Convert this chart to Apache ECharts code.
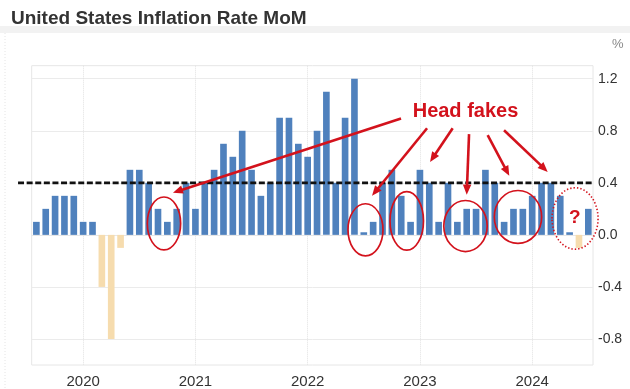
<!DOCTYPE html>
<html><head><meta charset="utf-8">
<script src="https://cdn.jsdelivr.net/npm/echarts@6/dist/echarts.min.js"></script>
<style>html,body{margin:0;padding:0;background:#fff}#c{width:630px;height:389px}</style>
</head><body><div id="c"></div>
<script>
// ---- data ----
const months = [
  '2019-08','2019-09','2019-10','2019-11','2019-12',
  '2020-01','2020-02','2020-03','2020-04','2020-05','2020-06','2020-07','2020-08','2020-09','2020-10','2020-11','2020-12',
  '2021-01','2021-02','2021-03','2021-04','2021-05','2021-06','2021-07','2021-08','2021-09','2021-10','2021-11','2021-12',
  '2022-01','2022-02','2022-03','2022-04','2022-05','2022-06','2022-07','2022-08','2022-09','2022-10','2022-11','2022-12',
  '2023-01','2023-02','2023-03','2023-04','2023-05','2023-06','2023-07','2023-08','2023-09','2023-10','2023-11','2023-12',
  '2024-01','2024-02','2024-03','2024-04','2024-05','2024-06','2024-07'
];
const inflationMoM = [
  0.1, 0.2, 0.3, 0.3, 0.3,
  0.1, 0.1, -0.4, -0.8, -0.1, 0.5, 0.5, 0.4, 0.2, 0.1, 0.2, 0.4,
  0.2, 0.4, 0.5, 0.7, 0.6, 0.8, 0.5, 0.3, 0.4, 0.9, 0.9, 0.7,
  0.6, 0.8, 1.1, 0.4, 0.9, 1.2, 0.02, 0.1, 0.4, 0.5, 0.3, 0.1,
  0.5, 0.4, 0.1, 0.4, 0.1, 0.2, 0.2, 0.5, 0.4, 0.1, 0.2, 0.2,
  0.3, 0.4, 0.4, 0.3, 0.02, -0.1, 0.2
];
const yTickLabels = ['-0.8', '-0.4', '0.0', '0.4', '0.8', '1.2'];
const thresholdValue = 0.4;
// annotations in data space: [monthIndex, value, ...]
const thresholdSpan = [[-1.96, 0.4, 59.5, 0.4]];
const ellipses = [ // cx, cy, rx (months), ry (value), dotted
  [13.64, 0.088, 1.78, 0.203, 0],
  [35.18, 0.039, 1.87, 0.200, 0],
  [39.59, 0.107, 1.79, 0.225, 0],
  [45.87, 0.068, 2.32, 0.196, 0],
  [51.48, 0.138, 2.53, 0.203, 0],
  [57.58, 0.126, 2.46, 0.236, 1]
];
const arrows = [ // x0, y0, x1(head), y1(head)
  [38.98, 0.895, 14.60, 0.324],
  [41.76, 0.819, 35.88, 0.301],
  [44.50, 0.819, 42.08, 0.560],
  [46.25, 0.774, 46.00, 0.309],
  [48.24, 0.766, 50.55, 0.454],
  [49.99, 0.804, 54.66, 0.484]
];
const labels = [ // x, y, text, size
  [45.87, 0.952, 'Head fakes', 20],
  [57.55, 0.135, '?', 19]
];

const RED = '#d3121c';
const FONT = 'Liberation Sans, Arial, sans-serif';
const chart = echarts.init(document.getElementById('c'), null, {renderer: 'canvas'});

chart.setOption({
  backgroundColor: '#fff',
  animation: false,
  title: {
    text: 'United States Inflation Rate MoM',
    left: 6, top: 4,
    textStyle: {fontFamily: FONT, fontSize: 19, fontWeight: 'bold', color: '#333'}
  },
  graphic: [
    {type: 'rect', left: 0, top: 26, shape: {width: 630, height: 7}, style: {fill: '#f2f2f2'}, silent: true},
    {type: 'line', shape: {x1: 5, y1: 33, x2: 5, y2: 389}, style: {stroke: '#e4e4e4', lineDash: [1, 2], lineWidth: 1}, silent: true},
    {type: 'text', left: 612, top: 38, style: {text: '%', fill: '#888', font: '13px ' + FONT}, silent: true}
  ],
  grid: {left: 31.7, right: 37, top: 65.7, bottom: 21.3, show: true, borderColor: '#e6e6e6', borderWidth: 1},
  xAxis: [{
    type: 'category',
    data: months,
    boundaryGap: true,
    axisLine: {show: true, lineStyle: {color: '#e6e6e6'}},
    axisTick: {show: false},
    axisLabel: {
      interval: (i, v) => v.endsWith('-01'),
      formatter: v => v.slice(0, 4),
      color: '#333', fontSize: 15, fontFamily: FONT, margin: 9
    },
    splitLine: {
      show: true, alignWithLabel: true,
      interval: (i, v) => v.endsWith('-01'),
      lineStyle: {color: '#e2e2e2', type: 'dotted', width: 1}
    }
  }, {
    type: 'value', min: -0.5, max: 59.5, show: false
  }],
  yAxis: {
    type: 'value',
    position: 'right',
    min: -1.0, max: 1.3, interval: 0.2,
    axisLine: {show: false},
    axisTick: {show: false},
    axisLabel: {
      color: '#333', fontSize: 14, fontFamily: FONT, margin: 5,
      formatter: v => {
        const s = v.toFixed(1);
        return yTickLabels.indexOf(s === '-0.0' ? '0.0' : s) >= 0 ? (s === '-0.0' ? '0.0' : s) : '';
      }
    },
    splitLine: {show: true, lineStyle: {color: ['transparent', '#ebebeb'], width: 1}}
  },
  series: [{
    type: 'bar',
    data: inflationMoM,
    barWidth: '71%',
    z: 2,
    itemStyle: {color: p => p.value < 0 ? '#f6dcae' : '#4f81bd'}
  }, {
    type: 'custom', xAxisIndex: 1, z: 5, clip: false,
    data: thresholdSpan,
    renderItem: (params, api) => {
      const a = api.coord([api.value(0), api.value(1)]);
      const b = api.coord([api.value(2), api.value(3)]);
      return {type: 'line', shape: {x1: a[0], y1: a[1], x2: b[0], y2: b[1]},
        style: {stroke: '#111', lineWidth: 2.8, lineDash: [6, 2.6]}};
    }
  }, {
    type: 'custom', xAxisIndex: 1, z: 6, clip: false,
    data: ellipses,
    renderItem: (params, api) => {
      const c = api.coord([api.value(0), api.value(1)]);
      const s = api.size([api.value(2), api.value(3)]);
      const dotted = api.value(4) === 1;
      return {type: 'ellipse', shape: {cx: c[0], cy: c[1], rx: s[0], ry: s[1]},
        style: {fill: 'none', stroke: RED, lineWidth: dotted ? 1.6 : 1.7, lineDash: dotted ? [1.4, 2] : null}};
    }
  }, {
    type: 'custom', xAxisIndex: 1, z: 7, clip: false,
    data: arrows,
    renderItem: (params, api) => {
      const p0 = api.coord([api.value(0), api.value(1)]);
      const p1 = api.coord([api.value(2), api.value(3)]);
      const dx = p1[0] - p0[0], dy = p1[1] - p0[1];
      const L = Math.hypot(dx, dy), ux = dx / L, uy = dy / L;
      const head = 10, half = 4.2;
      const bx = p1[0] - ux * head, by = p1[1] - uy * head;
      return {type: 'group', children: [
        {type: 'line', shape: {x1: p0[0], y1: p0[1], x2: bx + ux * 1, y2: by + uy * 1}, style: {stroke: RED, lineWidth: 2.6}},
        {type: 'polygon', shape: {points: [[p1[0], p1[1]], [bx - uy * half, by + ux * half], [bx + uy * half, by - ux * half]]}, style: {fill: RED}}
      ]};
    }
  }, {
    type: 'custom', xAxisIndex: 1, z: 8, clip: false,
    data: labels,
    renderItem: (params, api) => {
      const c = api.coord([api.value(0), api.value(1)]);
      const item = labels[params.dataIndex];
      return {type: 'text', x: c[0], y: c[1],
        style: {text: item[2], fill: RED, font: 'bold ' + item[3] + 'px ' + FONT, align: 'center', verticalAlign: 'middle'}};
    }
  }]
});
</script>
</body></html>
